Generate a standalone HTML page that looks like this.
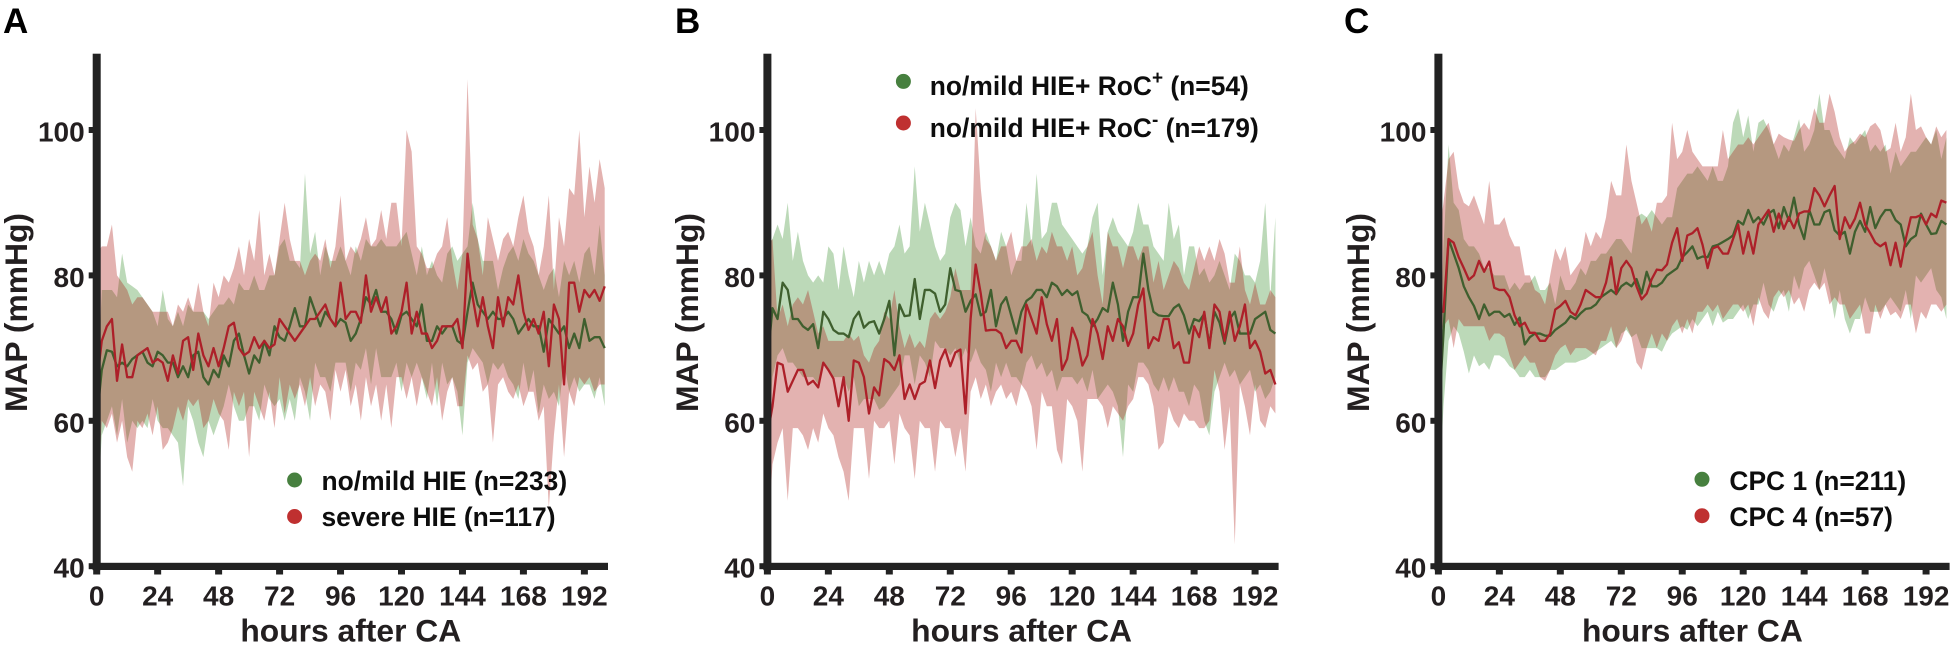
<!DOCTYPE html>
<html>
<head>
<meta charset="utf-8">
<title>MAP after CA</title>
<style>
html,body{margin:0;padding:0;background:#fff;width:1955px;height:647px;overflow:hidden}
svg{display:block}
text{font-family:"Liberation Sans",Arial,sans-serif;font-weight:bold;fill:#231f20}
.tick{font-size:28px}
.title{font-size:31.8px;text-anchor:middle}
.legend{font-size:26.4px;fill:#0d0d0d}
.letter{font-size:35px;fill:#000}
</style>
</head>
<body>
<svg id="chart" width="1955" height="647" viewBox="0 0 1955 647" xmlns="http://www.w3.org/2000/svg">
  <g id="panel-a">
    <g class="marks"></g>
    <rect x="92.7" y="53.7" width="8" height="516.5" fill="#222"/>
    <rect x="92.7" y="562.8" width="515.3" height="7.2" fill="#222"/>
    <g class="ticks"></g>
    <text class="letter" x="3" y="33">A</text>
    <text class="title" transform="translate(27,312.5) rotate(-90)">MAP (mmHg)</text>
    <text class="title" x="350.8" y="641.5">hours after CA</text>
    <circle cx="294.6" cy="480" r="7.5" fill="#47803f"/>
    <text class="legend" x="321.5" y="490">no/mild HIE (n=233)</text>
    <circle cx="294.6" cy="516.5" r="7.5" fill="#bf3030"/>
    <text class="legend" x="321.5" y="526">severe HIE (n=117)</text>
  </g>
  <g id="panel-b">
    <g class="marks"></g>
    <rect x="763.4" y="53.7" width="8" height="516.5" fill="#222"/>
    <rect x="763.4" y="562.8" width="515.2" height="7.2" fill="#222"/>
    <g class="ticks"></g>
    <text class="letter" x="675" y="33">B</text>
    <text class="title" transform="translate(698,312.5) rotate(-90)">MAP (mmHg)</text>
    <text class="title" x="1021.6" y="641.5">hours after CA</text>
    <circle cx="903.4" cy="81.4" r="7.5" fill="#47803f"/>
    <text class="legend" x="929.8" y="95">no/mild HIE+ RoC<tspan dy="-11" font-size="19">+</tspan><tspan dy="11"> (n=54)</tspan></text>
    <circle cx="903.4" cy="123" r="7.5" fill="#bf3030"/>
    <text class="legend" x="929.8" y="137">no/mild HIE+ RoC<tspan dy="-11" font-size="19">-</tspan><tspan dy="11"> (n=179)</tspan></text>
  </g>
  <g id="panel-c">
    <g class="marks"></g>
    <rect x="1434.4" y="53.7" width="8" height="516.5" fill="#222"/>
    <rect x="1434.4" y="562.8" width="515.2" height="7.2" fill="#222"/>
    <g class="ticks"></g>
    <text class="letter" x="1344" y="33">C</text>
    <text class="title" transform="translate(1369,312.5) rotate(-90)">MAP (mmHg)</text>
    <text class="title" x="1692.4" y="641.5">hours after CA</text>
    <circle cx="1702" cy="479.3" r="7.5" fill="#47803f"/>
    <text class="legend" x="1729.4" y="490">CPC 1 (n=211)</text>
    <circle cx="1702" cy="515.7" r="7.5" fill="#bf3030"/>
    <text class="legend" x="1729.4" y="526">CPC 4 (n=57)</text>
  </g>
</svg>
<script>
const xTickLabels=[0,24,48,72,96,120,144,168,192];
const yTickLabels=[40,60,80,100];
const hours=[0,2,4,6,8,10,12,14,16,18,20,22,24,26,28,30,32,34,36,38,40,42,44,46,48,50,52,54,56,58,60,62,64,66,68,70,72,74,76,78,80,82,84,86,88,90,92,94,96,98,100,102,104,106,108,110,112,114,116,118,120,122,124,126,128,130,132,134,136,138,140,142,144,146,148,150,152,154,156,158,160,162,164,166,168,170,172,174,176,178,180,182,184,186,188,190,192,194,196,198,200];

const aGreenMean=[60,67,69.7,69.5,67.5,68,67.5,68.5,69,69.5,
68,67.5,69.5,69,68,68,66,67.5,66,69,
69.5,66,65,67,66,69,67.5,71,72,69,
66.5,69,68,71,69,73,71.5,71,73,75.5,
73,73,77,75,73,75,74,73,74,73.5,
71,72,74,77,76,78,75,75,74,72,
74.5,75,74,73,76,71,71,73,72,73,
73,71,70.5,75,79,76,75,74,75,74,
74,75,74,72,73,74,73,73,69.5,74,
73,72,73,70,72,70,74,71,71.5,71.5,
70];
const aGreenUpper=[62,78,78,78,77,83,79,78.5,78,77,
76,75,73,78,74,73,75,73,76,75,
75,75,74,75,76,76,77,76,79,78,
78,80,78,78,80,80,84,85,82,82,
81,94,83,86,80,84,82,82,84,82,
80,84,82,85,84,84,85,84,84,84,
85,86,83,80,84,80,82,80,79,83,
84,82,83,84,90,85,82,82,82,78,
81,83,84,82,85,83,82,80,78,80,
81,77,82,80,82,79,83,84,80,87,
80];
const aGreenLower=[46,58,60,62,58,63,57,60,59,60,
59,63,60,59,59,58,57,51,62,60,
57,55,60,58,60,62,65,62,60,60,
62,62,60,65,63,62,63,60,63,60,
66,64,60,68,66,66,64,68,68,68,
64,68,67,70,65,70,66,66,66,68,
64,68,66,68,66,63,68,62,68,65,
66,64,58,68,70,69,68,65,68,67,
68,66,65,63,68,64,67,61,65,63,
64,62,68,64,66,64,65,65,63,66,
62];
const aRedMean=[65,71,73,74,65.5,70.5,66,66,69,69.5,
70,68,68.5,68,65.5,69,66.5,71,71.5,67,
72,69,67.5,70,67.5,70,73,73.5,70,69,
69.5,71.5,70,71,70,70.5,74,73,72,71,
72,73,74,74,75,76,74,73,79,74,
75,75,73.5,80,75,77,75,77,72,73,
75,79,72,75,72,72,70,71,73,73,
73,74,70,83,77,73,77,73,70,77,
73,77,76,80,75,72.5,74,72,75,67.5,
76,74,65,79,79,75,78,77,78,76.5,
78.5];
const aRedUpper=[83,84,84,87,80,79,78,76,77,77,
76,75,75,75,75,73,76,75,77,75,
79,75,73,79,77,80,79,81,84,80,
85,82,89,80,83,80,85,90,85,82,
82,80,82,83,82,85,81,84,91,82,
84,83,85,88,84,85,89,85,90,90,
84,100,97,84,83,81,81,83,84,88,
82,78,83,107,87,85,80,88,85,82,
85,86,84,88,91,86,84,80,84,91,
78,88,84,92,91,100,88,95,90,96,
92];
const aRedLower=[47,60,59,61,57,60,55,53,60,59,
61,58,62,56,57,59,62,60,63,62,
63,59,60,63,61,60,56,64,62,64,
55,64,62,60,64,59,66,61,65,63,
65,62,66,62,65,64,60,67,64,67,
62,65,60,66,62,65,60,65,59,66,
66,63,66,62,66,64,62,66,60,64,
66,62,62,69,67,68,64,65,57,65,
66,64,63,65,62,64,64,60,62,48,
58,65,55,64,62,66,65,66,64,65,
65];

const bGreenMean=[68,75.5,74,79,78,74,74,73,72.5,73.3,
70,75,74,72.5,72,72,71.5,74,75,72.8,
73.5,73.7,72,74,76.5,69,76,74.4,74.5,79.5,
74,78,78,77.5,75,76,81,78,77.8,75,
76.5,77.4,74.5,75,78,73,76,77,74.5,72,
75,76.5,77,78,78,77,79,78.5,77.3,78,
77.3,77.8,75,74.5,73,74,75.5,75,79,76,
71,75,77,77,83,78,75,74.5,74.4,74.4,
75.5,76,74.5,72,74,73.7,74.7,70.5,75,73.5,
70.6,74,75,72,72,72,74,74.5,75,72.5,
72];
const bGreenUpper=[84,85,87,85,90,82,86,82,80,79,
80,79,84,83,78,84,80,77,82,79,
82,80,82,80,83,84,87,83,84,95,
86,90,87,84,82,83,88,90,89,84,
88,84,83,86,84,82,86,84,80,82,
82,90,84,94,85,86,90,90,87,86,
85,84,83,84,88,90,80,86,88,86,
85,84,86,90,87,87,84,83,82,90,
85,87,80,84,84,80,81,79,80,82,
80,78,83,82,80,80,79,82,90,77,
88];
const bGreenLower=[55,66,69,70,68,68,67,66,66,66,
65,68,67,66,66,66,64,66,62,63,
63,63,61.5,62,63,64,65,69,69,65,
69,68,66,71,70,70,69,70,68,70,
68,70,68,67,64,68,66,68,66,66,
65,68,69,67,68,66,67,64,66,66,
66,65,66,64,67,63,64,65,64,62,
55,65,64,68,68,67,65,64,66,64,
66,64,64,62,65,64,60,58,64,66,
68,66,67,65,66,67,64,65,63,64,
66];
const bRedMean=[58,62,68,67.7,64,65.5,67,67,65,65.5,
64.6,68,67,65.8,62,66,60,68.3,68,66,
61,64.6,63.5,68.5,68,67,69,63,65,63,
65,65.4,68.3,64.5,68.3,69.8,67.5,69.4,69.8,61,
74,81.5,77.5,72.4,72.5,72.5,72,70,71,71,
69.4,76,74,72,77,73.3,71,74,67,68.5,
72.8,71,67.6,69,74,72,68.5,73,71,74,
73,70.3,72,76,78.2,70,71.5,71,74,74,
70,70.8,68,68,73,71.5,75,70,76,75,
71,75,71,73,76,70,71,69.5,66.5,67,
65];
const bRedUpper=[84,85,74,76,73,76,77,76,78,75,
72,73,71,71,71,71,72,71,71.7,69,
68,70,71,75,74,78,73,70,72,70,
71,70,74,75,74,75,77,81,78,78,
78,103,92,85,84,82,84,84,86,82,
84,84,85,82,84,83,86,84,84,82,
84,80,81,84,86,80,76,86,84,84,
81,84,84,82,84,84,79,82,78,80,
82,81,79,78,81,84,82,84,82,85,
83,79,79,84,78,76,79,76,76,78,
77];
const bRedLower=[43,54,57,59,49,59,59,58,56,59,
57,61,59,58,55,53,49,59,59,59,
52,60,59,59,60,54,61,59,58,52,
60,59,59,53,60,59,59,55,59,53,
64,66,63,65,62,64,65,63,64,62,
65,64,62,56,64,62,62,56,54,63,
62,60,53,63,63,63,62,59,62,61,
60,62,63,66,66,65,62,56,57,62,
60,59,61,60,60,59,59,60,67,64,
56,62,43,65,62,58,65,60,59,62,
61];

const cGreenMean=[60,72,85,83,81,78.5,77,75.8,74,76,
74.5,75,75,74.3,74.7,73.2,74.2,70.5,71.5,72,
72,71.7,71.7,72.5,73,73.5,74.4,74,74.8,75.4,
75.5,76,77,77.5,78,77.4,78.5,79,78.5,79.5,
77.5,80.5,78.5,78.5,79,80,80.5,81,82.5,83.2,
84,82.3,82.6,82.5,84,84.2,84.6,85,85.5,87.5,
87,89,87.3,88,87,88.5,89,86.5,89.4,87.5,
90.7,87,85,89,87,87,88.7,89,86.2,85.5,
86,83,86,87.5,86,89.4,86.5,88,89,89,
87.6,87,84,85,85.5,88.5,87,85.7,85.8,87.5,
87];
const cGreenUpper=[62,84,98,90,89,85,84,84,83,81,
81,80,80,80,78,79,78,79,79,80,
78,78,79,76,80,78,78,79,81,80,
82,82,83,83,84,85,85,84,83,88,
88.5,88,89,88,87,88,88,92,93,94,
94,95,94,93,95,93,93,95,101,103,
99,102,97,101,101.5,100,98,96,98,97,
99,101.5,97,98,100,105,100,100,98,97,
96,99,98,99,100,97,98,97,98,94,
97,95,96,97,97,98,99,98,100,96,
99];
const cGreenLower=[48,62,71,73,72,69.5,66.5,69,67.5,68,
67,69,69,68.5,67.5,67,66,66,67,66,
66,66,67,67,67.5,68,68,68,68.3,68.5,
69,69.5,70,70.5,71,70,72,72.5,71.5,72,
70,70,70,70,69.5,71,72,72.5,73,72.5,
74,73,74,75,73,75,73.5,74,74,75,
76,74,76,76,79,76,75,77,78,75,
80,78,81,82,80,78,81,78,74,78,
74,72,74,74,77,75,75,75,76,77,
76,75,78,74,80,79,80,81,78,77,
74];
const cRedMean=[75,75,85,84.5,82.5,81,79.4,80,82,80.5,
81.9,78.3,78,78,77,74.5,73,73.5,72.1,72.1,
71,71,72,75.3,75.8,76.5,75,74.5,76,78,
77.5,77,77,79,82.5,77.5,81,82,81,78.5,
76.7,77.5,79.5,80.8,80.7,81.5,84.5,86.5,82,85.5,
85.8,86.5,84.2,81,83.7,84,83,83,85,87,
83,86,83,87,88,89,86,88.5,86.4,88,
86.5,88.5,88.8,88.8,92,91,89.5,91,92.3,85,
88,86.5,87.8,90,87,85.8,84.5,84,84.5,81.4,
84.5,81.2,85,88,88,88.3,87,88.5,88,90.3,
90];
const cRedUpper=[85,90,96,97,92,90,89.5,91,89,87,
93,87,87,88,85.5,84,84,80,80,78,
77.5,76,80,83.7,82,84,80,81,82,86,
84,86,85,88,93,91,91,98,93,90,
87,88,86,90,90,91,101,96,97,100,
97,96,95,95,95,95,100,96,97,98,
98,99,98,99,100,101,98,99.5,99,98.7,
98.5,100,101,100,103,101,101,105,102.5,99,
97,98,98.5,99.5,99,100.5,101,100,97,97.5,
101,97,99,105,100,100.5,99,98,100.5,99,
100];
const cRedLower=[72,73,74,70,74,73,73,73,73,73,
71,72,72,71.5,69,67,68,69,68,68,
66,65.5,67,69,70,70.5,69,70,70,70,
69.5,69,71,71,73,70,71,73,71.5,68,
67,70,72,70,72,71,73,74,72,74,
72,75,75,76,75,76,74,75,76,76,
75,76,73,77,75,74,77,78,77,78,
76,77,75,78,79,78,79,76,77,76,
76,74,75,76,72,72,76,74,76,74.5,
75,74,76,76,72,75,74,76,76,75,
76];

const SVG_NS='http://www.w3.org/2000/svg';
const panels=[
  {id:'panel-a',x0:96.7,green:{mean:aGreenMean,upper:aGreenUpper,lower:aGreenLower},red:{mean:aRedMean,upper:aRedUpper,lower:aRedLower}},
  {id:'panel-b',x0:767.4,green:{mean:bGreenMean,upper:bGreenUpper,lower:bGreenLower},red:{mean:bRedMean,upper:bRedUpper,lower:bRedLower}},
  {id:'panel-c',x0:1438.4,green:{mean:cGreenMean,upper:cGreenUpper,lower:cGreenLower},red:{mean:cRedMean,upper:cRedUpper,lower:cRedLower}}
];
function yScale(v){return 566.2-(v-40)*7.27;}
function xScale(p,h){return p.x0+h*2.54;}
function linePath(p,values){
  return values.map(function(v,i){return (i?'L':'M')+xScale(p,hours[i]).toFixed(2)+' '+yScale(v).toFixed(2);}).join('');
}
function bandPath(p,upper,lower){
  let d=linePath(p,upper);
  for(let i=lower.length-1;i>=0;i--){d+='L'+xScale(p,hours[i]).toFixed(2)+' '+yScale(lower[i]).toFixed(2);}
  return d+'Z';
}
function addBand(group,p,s,fill,name){
  const el=document.createElementNS(SVG_NS,'path');
  
  
  el.setAttribute('d',bandPath(p,s.upper,s.lower));
  el.setAttribute('fill',fill);
  el.setAttribute('fill-opacity','0.32');
  group.appendChild(el);
}
function addLine(group,p,s,stroke,name){
  const el=document.createElementNS(SVG_NS,'path');
  
  
  el.setAttribute('d',linePath(p,s.mean));
  el.setAttribute('fill','none');
  el.setAttribute('stroke',stroke);
  el.setAttribute('stroke-width','2.3');
  el.setAttribute('stroke-linejoin','round');
  group.appendChild(el);
}
panels.forEach(function(p){
  const root=document.getElementById(p.id);
  const marks=root.querySelector('.marks');
  const ticks=root.querySelector('.ticks');
  addBand(marks,p,p.green,'rgb(46,136,33)','green-sd-band');
  addBand(marks,p,p.red,'rgb(167,17,8)','red-sd-band');
  addLine(marks,p,p.green,'#3f5f2e','green-mean-line');
  addLine(marks,p,p.red,'#ad2029','red-mean-line');
  xTickLabels.forEach(function(h){
    const x=xScale(p,h);
    const mark=document.createElementNS(SVG_NS,'rect');
    
    
    mark.setAttribute('x',x-3.5);
    mark.setAttribute('y',568);
    mark.setAttribute('width',7);
    mark.setAttribute('height',6.5);
    mark.setAttribute('fill','#222');
    ticks.appendChild(mark);
    const label=document.createElementNS(SVG_NS,'text');
    
    
    label.setAttribute('class','tick');
    label.setAttribute('x',x);
    label.setAttribute('y',605.5);
    label.setAttribute('text-anchor','middle');
    label.textContent=h;
    ticks.appendChild(label);
  });
  yTickLabels.forEach(function(v){
    const y=yScale(v);
    const mark=document.createElementNS(SVG_NS,'rect');
    
    
    mark.setAttribute('x',p.x0-8);
    mark.setAttribute('y',y-3);
    mark.setAttribute('width',5);
    mark.setAttribute('height',6);
    mark.setAttribute('fill','#222');
    ticks.appendChild(mark);
    const label=document.createElementNS(SVG_NS,'text');
    
    
    label.setAttribute('class','tick');
    label.setAttribute('x',p.x0-12);
    label.setAttribute('y',y+11.5);
    label.setAttribute('text-anchor','end');
    label.textContent=v;
    ticks.appendChild(label);
  });
});
</script>
</body>
</html>
